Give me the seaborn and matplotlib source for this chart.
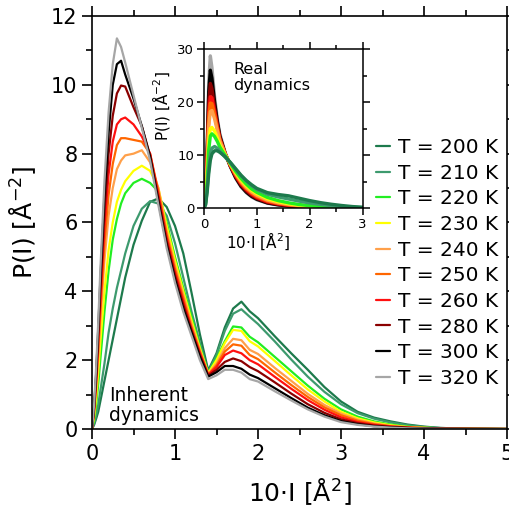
import numpy as np
import pandas as pd
import seaborn as sns
import matplotlib
matplotlib.use("Agg")
import matplotlib.pyplot as plt
from matplotlib.ticker import MultipleLocator

sns.set_style("ticks")
plt.rcParams["font.family"] = ["DejaVu Sans"]
plt.rcParams["mathtext.default"] = "regular"
for key in ("text.color", "axes.labelcolor", "xtick.color", "ytick.color"):
    plt.rcParams[key] = "black"

# Temperatures and their line colours
temps = ["T = 200 K", "T = 210 K", "T = 220 K", "T = 230 K", "T = 240 K",
         "T = 250 K", "T = 260 K", "T = 280 K", "T = 300 K", "T = 320 K"]
colors = ["#1d7a4c", "#3d9a6e", "#22ee22", "#ffff00", "#ffa04a",
          "#ff6600", "#ff1010", "#8b0000", "#000000", "#a6a6a6"]

# Inherent dynamics: P(I) vs 10*I
x_inh = [0, 0.025, 0.05, 0.075, 0.1, 0.15, 0.2, 0.25, 0.3, 0.35, 0.4, 0.5, 0.6,
         0.7, 0.8, 0.9, 1.0, 1.1, 1.2, 1.3, 1.4, 1.5, 1.6, 1.7, 1.8, 1.9, 2.0,
         2.2, 2.4, 2.6, 2.8, 3.0, 3.2, 3.4, 3.6, 3.8, 4.0, 4.2, 4.5, 5.0]
p200 = [0, 0.12, 0.3, 0.5, 0.8, 1.4, 2.0, 2.6, 3.2, 3.8, 4.4, 5.35, 6.05,
        6.6, 6.7, 6.45, 5.9, 5.1, 3.95, 2.75, 1.7, 2.2, 2.95, 3.5, 3.7, 3.42, 3.22,
        2.7, 2.2, 1.72, 1.22, 0.8, 0.5, 0.33, 0.22, 0.13, 0.07, 0.03, 0.01, 0]
p210 = [0, 0.15, 0.4, 0.7, 1.1, 1.9, 2.8, 3.5, 4.1, 4.6, 5.1, 5.9, 6.4,
        6.62, 6.55, 6.2, 5.4, 4.4, 3.4, 2.5, 1.65, 2.15, 2.85, 3.35, 3.48, 3.26, 3.05,
        2.55, 2.02, 1.52, 1.08, 0.72, 0.46, 0.3, 0.19, 0.11, 0.06, 0.03, 0.01, 0]
p220 = [0, 0.25, 0.7, 1.3, 2.0, 3.4, 4.6, 5.5, 6.1, 6.55, 6.85, 7.15, 7.27,
        7.15, 6.9, 6.0, 5.0, 4.1, 3.25, 2.4, 1.63, 2.05, 2.55, 2.98, 2.95, 2.68, 2.52,
        2.1, 1.68, 1.26, 0.88, 0.57, 0.36, 0.22, 0.13, 0.07, 0.04, 0.02, 0.01, 0]
p230 = [0, 0.35, 0.9, 1.65, 2.5, 4.0, 5.2, 6.0, 6.6, 6.95, 7.2, 7.5, 7.65,
        7.5, 7.0, 5.9, 4.9, 4.0, 3.15, 2.35, 1.62, 2.0, 2.5, 2.88, 2.85, 2.55, 2.4,
        1.98, 1.56, 1.15, 0.8, 0.5, 0.31, 0.19, 0.11, 0.06, 0.035, 0.02, 0.008, 0]
p240 = [0, 0.45, 1.2, 2.1, 3.1, 4.9, 6.2, 7.0, 7.55, 7.8, 7.95, 8.0, 8.1,
        7.75, 7.0, 5.75, 4.75, 3.9, 3.05, 2.3, 1.6, 1.9, 2.35, 2.62, 2.58, 2.3, 2.18,
        1.78, 1.4, 1.02, 0.7, 0.45, 0.27, 0.16, 0.09, 0.05, 0.03, 0.015, 0.006, 0]
p250 = [0, 0.5, 1.3, 2.3, 3.4, 5.4, 6.8, 7.7, 8.25, 8.45, 8.45, 8.4, 8.35,
        8.0, 6.9, 5.65, 4.65, 3.8, 2.95, 2.25, 1.58, 1.85, 2.25, 2.46, 2.42, 2.15, 2.03,
        1.65, 1.28, 0.93, 0.63, 0.4, 0.24, 0.14, 0.08, 0.05, 0.03, 0.015, 0.006, 0]
p260 = [0, 0.55, 1.4, 2.5, 3.7, 5.9, 7.4, 8.35, 8.85, 9.0, 9.05, 8.85, 8.5,
        8.0, 6.8, 5.55, 4.55, 3.7, 2.9, 2.2, 1.57, 1.8, 2.15, 2.28, 2.2, 2.0, 1.88,
        1.52, 1.17, 0.84, 0.56, 0.34, 0.2, 0.12, 0.07, 0.04, 0.02, 0.01, 0.005, 0]
p280 = [0, 0.6, 1.5, 2.7, 4.0, 6.3, 8.0, 9.1, 9.75, 9.98, 9.95, 9.35, 8.8,
        7.95, 6.7, 5.45, 4.45, 3.6, 2.85, 2.15, 1.55, 1.72, 1.95, 2.05, 1.97, 1.8, 1.68,
        1.36, 1.03, 0.72, 0.47, 0.28, 0.17, 0.1, 0.06, 0.03, 0.02, 0.01, 0.004, 0]
p300 = [0, 0.65, 1.6, 2.9, 4.3, 6.8, 8.6, 10.0, 10.6, 10.7, 10.3, 9.6, 8.8,
        7.9, 6.6, 5.35, 4.35, 3.5, 2.8, 2.1, 1.52, 1.65, 1.83, 1.83, 1.75, 1.58, 1.48,
        1.19, 0.9, 0.62, 0.4, 0.23, 0.14, 0.08, 0.05, 0.03, 0.015, 0.008, 0.003, 0]
p320 = [0, 0.7, 1.8, 3.1, 4.6, 7.2, 9.2, 10.6, 11.35, 11.1, 10.65, 9.7, 8.75,
        7.8, 6.5, 5.25, 4.25, 3.4, 2.7, 2.0, 1.45, 1.56, 1.72, 1.72, 1.64, 1.45, 1.38,
        1.1, 0.83, 0.57, 0.36, 0.2, 0.12, 0.07, 0.04, 0.02, 0.01, 0.005, 0, 0]

# Real dynamics: P(I) vs 10*I
x_real = [0, 0.03, 0.06, 0.09, 0.12, 0.15, 0.2, 0.25, 0.3, 0.4, 0.5, 0.6, 0.7,
          0.8, 0.9, 1.0, 1.2, 1.4, 1.6, 1.8, 2.0, 2.2, 2.4, 2.6, 2.8, 3.0]
r200 = [0, 0.6, 3.0, 6.5, 9.0, 10.2, 10.8, 10.8, 10.5, 9.7, 8.6, 7.4, 6.2,
        5.2, 4.4, 3.7, 2.9, 2.55, 2.3, 1.85, 1.4, 1.02, 0.72, 0.48, 0.28, 0.14]
r210 = [0, 0.7, 3.5, 7.5, 10.2, 11.3, 11.6, 11.3, 10.7, 9.6, 8.5, 7.3, 6.1,
        5.1, 4.2, 3.5, 2.6, 2.1, 1.7, 1.3, 0.95, 0.68, 0.46, 0.3, 0.17, 0.08]
r220 = [0, 1.0, 5.0, 11.0, 13.6, 14.0, 13.5, 12.6, 11.5, 9.9, 8.4, 6.9, 5.6,
        4.5, 3.6, 2.95, 2.0, 1.4, 0.98, 0.66, 0.44, 0.29, 0.18, 0.11, 0.06, 0.03]
r230 = [0, 1.2, 6.0, 12.5, 15.0, 15.2, 14.5, 13.3, 11.9, 10.0, 8.3, 6.7, 5.3,
        4.2, 3.35, 2.7, 1.75, 1.2, 0.82, 0.55, 0.36, 0.24, 0.15, 0.09, 0.05, 0.02]
r240 = [0, 1.5, 7.5, 15.5, 18.2, 18.4, 16.8, 14.7, 12.6, 10.2, 8.2, 6.5, 5.0,
        3.9, 3.05, 2.4, 1.5, 1.0, 0.68, 0.44, 0.29, 0.19, 0.12, 0.07, 0.04, 0.02]
r250 = [0, 1.7, 8.5, 17.0, 19.8, 19.7, 17.6, 15.1, 12.8, 10.2, 8.1, 6.3, 4.8,
        3.7, 2.85, 2.2, 1.35, 0.9, 0.6, 0.38, 0.25, 0.16, 0.1, 0.06, 0.03, 0.01]
r260 = [0, 1.8, 9.0, 18.0, 21.0, 20.8, 18.2, 15.5, 13.0, 10.2, 8.0, 6.1, 4.6,
        3.5, 2.65, 2.0, 1.2, 0.8, 0.52, 0.33, 0.21, 0.14, 0.08, 0.05, 0.03, 0.01]
r280 = [0, 2.0, 10.0, 20.0, 23.5, 22.5, 19.0, 16.0, 13.3, 10.3, 7.9, 5.9, 4.3,
        3.2, 2.4, 1.8, 1.05, 0.68, 0.44, 0.28, 0.18, 0.12, 0.07, 0.04, 0.02, 0.01]
r300 = [0, 2.2, 11.0, 22.0, 26.0, 24.5, 20.0, 16.5, 13.6, 10.3, 7.8, 5.7, 4.1,
        3.0, 2.2, 1.65, 0.95, 0.6, 0.38, 0.24, 0.15, 0.1, 0.06, 0.04, 0.02, 0.01]
r320 = [0, 2.5, 12.0, 24.0, 28.7, 26.5, 21.0, 17.0, 14.0, 10.5, 7.8, 5.6, 4.0,
        2.9, 2.1, 1.55, 0.9, 0.55, 0.35, 0.22, 0.14, 0.09, 0.05, 0.03, 0.02, 0.01]

inherent = [p200, p210, p220, p230, p240, p250, p260, p280, p300, p320]
real = [r200, r210, r220, r230, r240, r250, r260, r280, r300, r320]


def long_frame(xs, series):
    rows = []
    for label, ys in zip(temps, series):
        for xv, yv in zip(xs, ys):
            rows.append((label, xv, yv))
    return pd.DataFrame(rows, columns=["T", "x", "P"])


df_inh = long_frame(x_inh, inherent)
df_real = long_frame(x_real, real)
palette = dict(zip(temps, colors))

W, H = 509, 507
fig = plt.figure(figsize=(W / 100, H / 100), dpi=100)

# ---- main panel ----
ax = fig.add_axes([92 / W, 78 / H, 415 / W, 413 / H])
sns.lineplot(data=df_inh, x="x", y="P", hue="T", hue_order=temps,
             palette=palette, estimator=None, sort=False, lw=1.6, ax=ax)
ax.set_xlim(0, 5)
ax.set_ylim(0, 12)
ax.xaxis.set_major_locator(MultipleLocator(1))
ax.xaxis.set_minor_locator(MultipleLocator(0.5))
ax.yaxis.set_major_locator(MultipleLocator(2))
ax.yaxis.set_minor_locator(MultipleLocator(1))
ax.tick_params(which="both", direction="out", top=True, right=True,
               labelsize=15, width=1.2, color="black")
ax.tick_params(which="major", length=7)
ax.tick_params(which="minor", length=4)
for s in ax.spines.values():
    s.set_linewidth(1.2)
    s.set_color("black")
ax.set_xlabel("10·I [Å$^{2}$]", fontsize=18)
ax.set_ylabel("P(I) [Å$^{-2}$]", fontsize=18)
ax.xaxis.set_label_coords(0.5, -0.115)
ax.yaxis.set_label_coords(-0.13, 0.5)
ax.text(0.21, 0.12, "Inherent\ndynamics", fontsize=13.5, ha="left",
        va="bottom", linespacing=1.05)

handles, labels = ax.get_legend_handles_labels()
ax.get_legend().remove()
fig.legend(handles, labels, loc="upper left",
           bbox_to_anchor=(376 / W, 1 - 138 / H), frameon=False,
           fontsize=14.5, handlelength=0.7, handletextpad=0.4,
           labelspacing=0.33, borderpad=0, borderaxespad=0)

# ---- inset panel ----
axi = fig.add_axes([204 / W, (H - 208) / H, 158.5 / W, 159 / H])
axi.set_facecolor("white")
sns.lineplot(data=df_real, x="x", y="P", hue="T", hue_order=temps[::-1],
             palette=palette, estimator=None, sort=False, lw=2.4, ax=axi,
             legend=False)
axi.set_xlim(0, 3)
axi.set_ylim(0, 30)
axi.xaxis.set_major_locator(MultipleLocator(1))
axi.xaxis.set_minor_locator(MultipleLocator(0.5))
axi.yaxis.set_major_locator(MultipleLocator(10))
axi.yaxis.set_minor_locator(MultipleLocator(5))
axi.tick_params(which="both", direction="out", top=True, right=True,
                labelsize=9.5, width=1.1, color="black", pad=2)
axi.tick_params(which="major", length=5)
axi.tick_params(which="minor", length=3)
for s in axi.spines.values():
    s.set_linewidth(1.1)
    s.set_color("black")
axi.set_xlabel("10·I [Å$^{2}$]", fontsize=11)
axi.set_ylabel("P(I) [Å$^{-2}$]", fontsize=11)
axi.xaxis.set_label_coords(0.34, -0.14)
axi.yaxis.set_label_coords(-0.2, 0.64)
axi.text(0.55, 27.5, "Real\ndynamics", fontsize=11.5, ha="left", va="top",
         linespacing=1.05)

fig.savefig("out.png", dpi=100)
